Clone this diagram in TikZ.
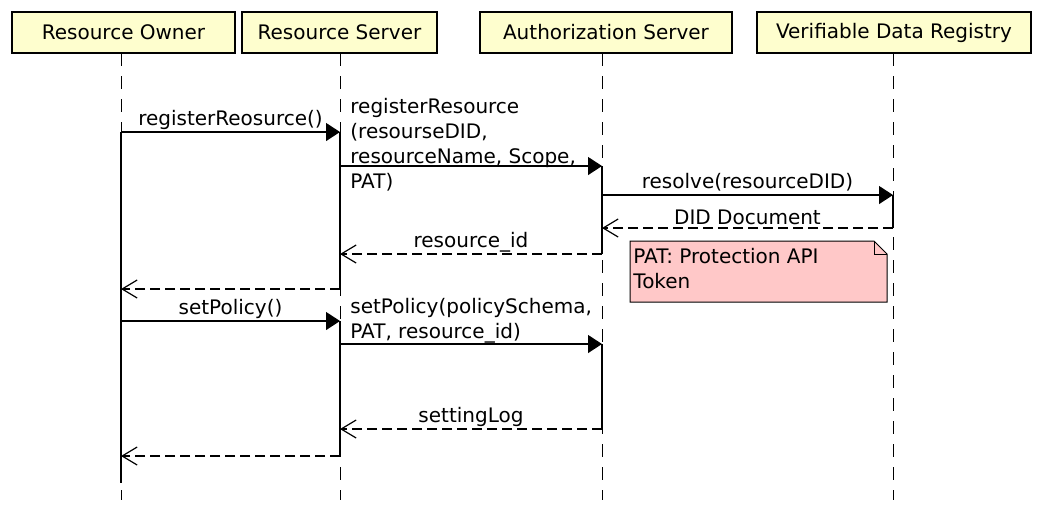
\documentclass[tikz,border=0pt]{standalone}
\usepackage{fontspec}
\setmainfont{DejaVu Sans}
\usetikzlibrary{arrows.meta}
\usetikzlibrary{calc}

\definecolor{headfill}{RGB}{254,254,206}
\definecolor{notefill}{RGB}{255,200,200}

\begin{document}
\begin{tikzpicture}[x=0.5pt,y=-0.5pt,
	every node/.style={font=\fontsize{10}{12.5}\selectfont, inner sep=0pt},
	head/.style={draw, line width=1.4pt, fill=headfill, minimum height=20.5pt},
	lifeline/.style={line width=0.5pt, dash pattern=on 6.5pt off 5pt},
	active/.style={line width=0.6pt},
	call/.style={line width=0.6pt, -{Triangle[length=7pt,width=9pt]}},
	reply/.style={line width=0.6pt, dash pattern=on 5pt off 2.5pt,
		-{Straight Barb[length=7.5pt,width=9pt]}},
	lbl/.style={anchor=base, yshift=3.5pt},
	longlbl/.style={anchor=base west, align=left}]
	\useasboundingbox (0,0) rectangle (1042,516);

	% participants
	\node[head, minimum width=111.5pt] (rohead)  at (123.5,32.5) {Resource Owner};
	\node[head, minimum width=97.5pt]  (rshead)  at (339.5,32.5) {Resource Server};
	\node[head, minimum width=126pt]   (ashead)  at (606,32.5)   {Authorization Server};
	\node[head, minimum width=137pt]   (vdrhead) at (894,32.5)   {Verifiable Data Registry};

	% lifeline tops
	\coordinate (ro)  at (121,53);
	\coordinate (rs)  at (340,53);
	\coordinate (as)  at (602,53);
	\coordinate (vdr) at (893,53);

	% message heights
	\foreach \n/\y in {1/132, 2/166, 3/195, 4/228, 5/254, 6/289, 7/321, 8/344, 9/429, 10/456}
		\coordinate (m\n) at (0,\y);
	\coordinate (roend) at (0,483);
	\coordinate (bottom) at (0,500);

	% lifelines
	\foreach \p in {ro, rs, as, vdr}
		\draw[lifeline] (\p) -- (\p |- bottom);

	% activations
	\draw[active] (ro |- m1) -- (ro |- roend);
	\draw[active] (rs |- m1) -- (rs |- m6);
	\draw[active] (rs |- m7) -- (rs |- m10);
	\draw[active] (as |- m2) -- (as |- m5);
	\draw[active] (as |- m8) -- (as |- m9);
	\draw[active] (vdr |- m3) -- (vdr |- m4);

	% messages
	\path
		(ro |- m1)  edge[call]  node[lbl] {registerReosurce()} (rs |- m1)
		(rs |- m2)  edge[call]  (as |- m2)
		(as |- m3)  edge[call]  node[lbl] {resolve(resourceDID)} (vdr |- m3)
		(vdr |- m4) edge[reply] node[lbl, yshift=-1.5pt] {DID Document} (as |- m4)
		(as |- m5)  edge[reply] node[lbl] {resource\_id} (rs |- m5)
		(rs |- m6)  edge[reply] (ro |- m6)
		(ro |- m7)  edge[call]  node[lbl] {setPolicy()} (rs |- m7)
		(rs |- m8)  edge[call]  (as |- m8)
		(as |- m9)  edge[reply] node[lbl] {settingLog} (rs |- m9)
		(rs |- m10) edge[reply] (ro |- m10)
	;
	% multi-line labels, placed by their last line
	\node[longlbl] (regtext) at (350,188) {registerResource\\(resourseDID,\\resourceName, Scope,\\PAT)};
	\node[longlbl] (settext) at (350,338) {setPolicy(policySchema,\\PAT, resource\_id)};

	% note
	\draw[fill=notefill, line width=0.5pt] (630,241) -- (874,241) -- (887,254) -- (887,302) -- (630,302) -- cycle;
	\draw[line width=0.5pt] (874,241) -- (874,254) -- (887,254);
	\node[anchor=north west, align=left] (note) at (633,248) {PAT: Protection API\\Token};
\end{tikzpicture}
\end{document}
